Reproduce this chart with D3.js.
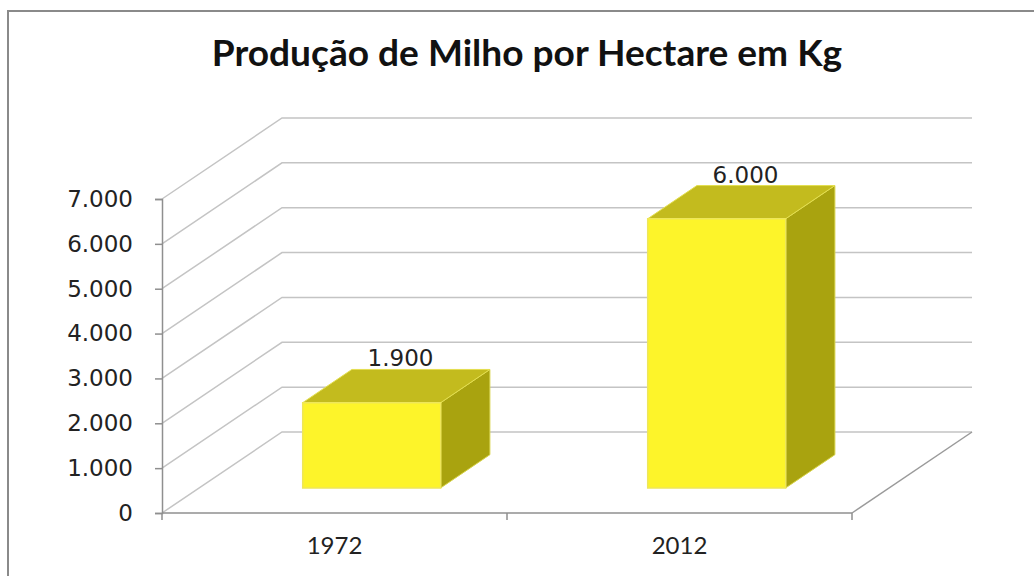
<!DOCTYPE html>
<html>
<head>
<meta charset="utf-8">
<script src="https://cdn.jsdelivr.net/npm/d3@7"></script>
<style>
  body { margin: 0; background: #fff; }
  svg { display: block; }
</style>
</head>
<body>
<div id="chart"></div>
<script>
"use strict";
// chart data
var years = ["1972", "2012"];
var values = [1900, 6000];
var yTicks = [0, 1000, 2000, 3000, 4000, 5000, 6000, 7000];
var title = "Produção de Milho por Hectare em Kg";

var W = 1034, H = 576;
// depth of the 3d box (back wall offset)
var DX = 120, DY = 81;
var barFront = 0.31, barBack = 0.72;

var ptBR = d3.formatLocale({ decimal: ",", thousands: ".", grouping: [3], currency: ["R$", ""] });
var fmt = ptBR.format(",d");

var svg = d3.select("#chart").append("svg")
    .attr("width", W)
    .attr("height", H);

// outer frame
svg.append("rect")
    .attr("x", 8).attr("y", 11)
    .attr("width", 1040).attr("height", 600)
    .attr("fill", "none")
    .attr("stroke", "#8a8a8a")
    .attr("stroke-width", 2);

var t = svg.append("text")
    .attr("x", 527).attr("y", 66)
    .attr("text-anchor", "middle")
    .style("font-family", "Lato, 'Open Sans', sans-serif")
    .style("font-weight", "bold")
    .style("font-size", "30px")
    .attr("fill", "#111")
    .text(title);
// fit the title to the width seen in the picture
var tw = t.node().getComputedTextLength();
t.style("font-size", (30 * 631 / tw).toFixed(1) + "px");

var x = d3.scaleBand()
    .domain(years)
    .range([162, 852])
    .paddingInner(0.6)
    .paddingOuter(0.3);

var y = d3.scaleLinear()
    .domain([0, 7000])
    .range([513, 199]);

function P(px, py, d) {
    return [px + d * DX, py - d * DY];
}

var g = svg.append("g");

// gridlines: left wall diagonal + back wall horizontal
yTicks.forEach(function (v) {
    var a = P(162, y(v), 0), b = P(162, y(v), 1), c = P(852, y(v), 1);
    g.append("polyline")
        .attr("points", [a, b, c].map(function (p) { return p.join(","); }).join(" "))
        .attr("fill", "none")
        .attr("stroke", "#c4c4c4")
        .attr("stroke-width", 1.5);
});

// floor right edge
var fr0 = P(852, y(0), 0), fr1 = P(852, y(0), 1);
g.append("line")
    .attr("x1", fr0[0]).attr("y1", fr0[1])
    .attr("x2", fr1[0]).attr("y2", fr1[1])
    .attr("stroke", "#9a9a9a").attr("stroke-width", 1.5);

// y axis
var yAxis = d3.axisLeft(y)
    .tickValues(yTicks)
    .tickSize(7)
    .tickPadding(22)
    .tickFormat(fmt);
var ya = svg.append("g")
    .attr("transform", "translate(162,0)")
    .call(yAxis);
ya.select(".domain").attr("stroke", "#8f8f8f").attr("stroke-width", 1.5);
ya.selectAll(".tick line").attr("stroke", "#8f8f8f").attr("stroke-width", 1.5);
ya.selectAll(".tick text")
    .attr("fill", "#222")
    .style("font-family", "'DejaVu Sans', Verdana, sans-serif")
    .style("font-size", "23px");

// x axis: ticks at category boundaries
var edges = [162].concat(years.map(function (d) { return x(d) + x.bandwidth() / 2 + x.step() / 2; }));
svg.append("line")
    .attr("x1", 162).attr("y1", y(0))
    .attr("x2", 852).attr("y2", y(0))
    .attr("stroke", "#8f8f8f").attr("stroke-width", 1.5);
svg.selectAll(".xtick").data(edges).enter().append("line")
    .attr("class", "xtick")
    .attr("x1", function (d) { return d; }).attr("y1", y(0))
    .attr("x2", function (d) { return d; }).attr("y2", y(0) + 7)
    .attr("stroke", "#8f8f8f").attr("stroke-width", 1.5);
svg.selectAll(".xlab").data(years).enter().append("text")
    .attr("class", "xlab")
    .attr("x", function (d) { return x(d) + x.bandwidth() / 2; })
    .attr("y", 554)
    .attr("text-anchor", "middle")
    .style("font-family", "Lato, sans-serif")
    .style("font-size", "24px")
    .attr("fill", "#222")
    .text(function (d) { return d; });

// bars
function pts(arr) { return arr.map(function (p) { return p.join(","); }).join(" "); }
var bars = svg.selectAll(".bar").data(years).enter().append("g").attr("class", "bar");
bars.each(function (d, i) {
    var b = d3.select(this);
    var x0 = x(d), x1 = x(d) + x.bandwidth();
    var y0 = y(0), y1 = y(values[i]);
    var fbl = P(x0, y0, barFront), fbr = P(x1, y0, barFront),
        ftl = P(x0, y1, barFront), ftr = P(x1, y1, barFront),
        bbr = P(x1, y0, barBack), btl = P(x0, y1, barBack), btr = P(x1, y1, barBack);
    // side
    b.append("polygon").attr("points", pts([fbr, ftr, btr, bbr]))
        .attr("fill", "#a9a30f").attr("stroke", "#d8d44a").attr("stroke-width", 1);
    // top
    b.append("polygon").attr("points", pts([ftl, ftr, btr, btl]))
        .attr("fill", "#c3bb1e").attr("stroke", "#e4df50").attr("stroke-width", 1);
    // front
    b.append("polygon").attr("points", pts([fbl, fbr, ftr, ftl]))
        .attr("fill", "#fdf42a").attr("stroke", "#eee65a").attr("stroke-width", 1.5);
    // value label
    var lp = P(x0 + x.bandwidth() / 2, y1, 0.55);
    b.append("text")
        .attr("x", lp[0])
        .attr("y", P(0, y1, barBack)[1] - 3)
        .attr("text-anchor", "middle")
        .style("font-family", "'DejaVu Sans', Verdana, sans-serif")
        .style("font-size", "23px")
        .attr("fill", "#222")
        .text(fmt(values[i]));
});
</script>
</body>
</html>
